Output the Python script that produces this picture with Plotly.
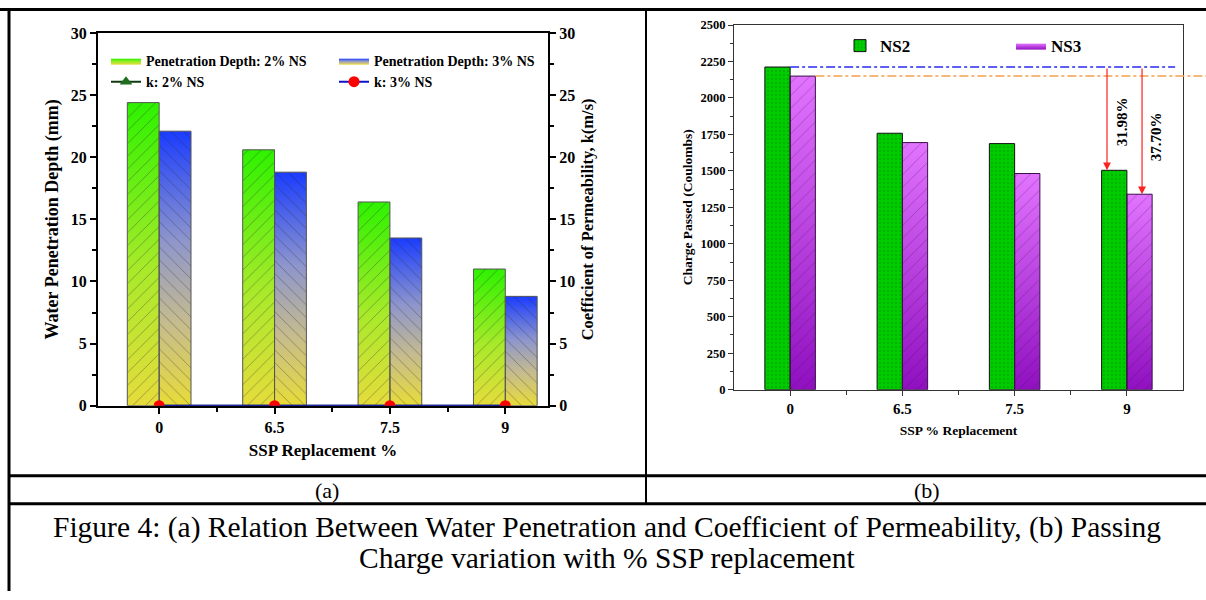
import plotly.graph_objects as go

# ---------------- data ----------------
ssp_labels = ["0", "6.5", "7.5", "9"]
depth_2ns = [24.4, 20.6, 16.4, 11.0]      # Water penetration depth (mm), 2% NS
depth_3ns = [22.1, 18.8, 13.5, 8.8]       # Water penetration depth (mm), 3% NS
k_2ns = [0, 0, 0, 0]                      # coefficient of permeability, 2% NS
k_3ns = [0, 0, 0, 0]                      # coefficient of permeability, 3% NS

charge_ns2 = [2212, 1758, 1687, 1504]     # Charge passed (Coulombs), NS2
charge_ns3 = [2150, 1694, 1482, 1340]     # Charge passed (Coulombs), NS3
reduction_labels = ["31.98%", "37.70%"]

caption_1 = "Figure 4: (a) Relation Between Water Penetration and Coefficient of Permeability, (b) Passing"
caption_2 = "Charge variation with % SSP replacement"

# ---------------- layout helpers ----------------
W, H = 1206, 600
FONT = "Liberation Serif"
Y_OFF, Y_SCALE = 8, 0.97   # vertical calibration of the photographed page


def fx(px):
    return px / W


def fy(py):
    return 1 - ((py - Y_OFF) / Y_SCALE) / H


xa_dom = [fx(98), fx(548)]
ya_dom = [fy(405), fy(33)]
xb_dom = [fx(734), fx(1183)]
yb_dom = [fy(389), fy(25)]
xa_range = [-0.53, 3.37]
xb_range = [-0.5, 3.5]

BW_A = 0.276
BW_B = 0.225

green_scale = [[0, "#e6dc3c"], [0.45, "#a8ea2a"], [1, "#2ef200"]]
blue_scale = [[0, "#e8dc38"], [0.3, "#c6bc8e"], [0.6, "#8e96cc"], [1, "#1a3cff"]]
purple_scale = [[0, "#9010c0"], [1, "#e274ff"]]

xs = list(range(len(ssp_labels)))
fig = go.Figure()


def gradient_bars(values, offset, width, scale, name, xaxis, yaxis, legend):
    for i, v in zip(xs, values):
        x0 = i + offset
        x1 = x0 + width
        fig.add_trace(go.Scatter(
            x=[x0, x0, x1, x1, x0], y=[0, v, v, 0, 0],
            fill="toself", mode="lines", line=dict(width=0),
            fillgradient=dict(type="vertical", colorscale=scale),
            name=name, legend=legend, legendgroup=name, showlegend=(i == 0),
            hoverinfo="skip", xaxis=xaxis, yaxis=yaxis))


# ---- panel (a): gradient fills on base axes ----
gradient_bars(depth_2ns, -BW_A, BW_A, green_scale, "Penetration Depth: 2% NS", "x", "y", "legend")
gradient_bars(depth_3ns, 0, BW_A, blue_scale, "Penetration Depth: 3% NS", "x", "y", "legend")

# hatched outlines (same 0-30 scale on overlaying axis so they sit above the fills)
fig.add_trace(go.Bar(
    x=xs, y=depth_2ns, width=BW_A, offset=-BW_A, showlegend=False,
    marker=dict(color="rgba(0,0,0,0)", line=dict(color="#555555", width=1),
                pattern=dict(shape="/", fgcolor="rgba(40,40,40,0.85)", bgcolor="rgba(0,0,0,0)",
                             size=9, solidity=0.09)),
    xaxis="x", yaxis="y2", hoverinfo="skip"))
fig.add_trace(go.Bar(
    x=xs, y=depth_3ns, width=BW_A, offset=0, showlegend=False,
    marker=dict(color="rgba(0,0,0,0)", line=dict(color="#555555", width=1),
                pattern=dict(shape="\\", fgcolor="rgba(40,40,40,0.85)", bgcolor="rgba(0,0,0,0)",
                             size=9, solidity=0.09)),
    xaxis="x", yaxis="y2", hoverinfo="skip"))

fig.add_trace(go.Scatter(
    x=xs, y=k_2ns, mode="lines+markers", name="k: 2% NS", legend="legend2",
    line=dict(color="#103a10", width=2),
    marker=dict(symbol="triangle-up", size=11, color="#1e6e1e"),
    xaxis="x", yaxis="y2"))
fig.add_trace(go.Scatter(
    x=xs, y=k_3ns, mode="lines+markers", name="k: 3% NS", legend="legend2",
    line=dict(color="#1010c8", width=2),
    marker=dict(symbol="circle", size=11, color="#ff0000"),
    xaxis="x", yaxis="y2"))

# ---- panel (b) ----
fig.add_trace(go.Bar(
    x=xs, y=charge_ns2, width=BW_B, offset=-BW_B, name="NS2", legend="legend3",
    marker=dict(color="#00cc00", line=dict(color="#111111", width=1),
                pattern=dict(shape=".", fgcolor="#008a00", bgcolor="#00cc00", size=4, solidity=0.2)),
    xaxis="x3", yaxis="y4", hoverinfo="skip"))
gradient_bars(charge_ns3, 0, BW_B, purple_scale, "NS3", "x3", "y3", "legend3")
fig.add_trace(go.Bar(
    x=xs, y=charge_ns3, width=BW_B, offset=0, showlegend=False,
    marker=dict(color="rgba(0,0,0,0)", line=dict(color="#3a1048", width=1),
                pattern=dict(shape="/", fgcolor="rgba(60,10,80,0.8)", bgcolor="rgba(0,0,0,0)",
                             size=9, solidity=0.08)),
    xaxis="x3", yaxis="y4", hoverinfo="skip"))

# ---------------- axes ----------------
bold = dict(family=FONT, color="black", weight="bold")

axis_a = dict(showgrid=False, zeroline=False, linecolor="black", linewidth=2,
              ticks="outside", ticklen=6, tickwidth=2, tickcolor="black",
              tickfont=dict(size=16, **bold))
axis_b = dict(showgrid=False, zeroline=False, linecolor="#333333", linewidth=1.2,
              ticks="outside", ticklen=5, tickwidth=1.2, tickcolor="#333333", mirror=True)

fig.update_layout(
    width=W, height=H, margin=dict(l=0, r=0, t=0, b=0),
    paper_bgcolor="white", plot_bgcolor="white", barmode="overlay",
    font=dict(family=FONT, color="black"),
    xaxis=dict(domain=xa_dom, range=xa_range, anchor="y", tickmode="array", tickvals=xs,
               ticktext=ssp_labels, mirror=True,
               minor=dict(tickmode="array", tickvals=[0.5, 1.5, 2.5], ticks="outside",
                          ticklen=4, tickwidth=1.5, tickcolor="black"),
               title=dict(text="SSP Replacement %", font=dict(size=17, **bold), standoff=9),
               **axis_a),
    xaxis2=dict(overlaying="x", side="top", anchor="y", range=xa_range, tickmode="array",
                tickvals=xs, showticklabels=False, showline=False, showgrid=False, zeroline=False,
                ticks="inside", ticklen=6, tickwidth=2, tickcolor="black",
                minor=dict(tickmode="array", tickvals=[0.5, 1.5, 2.5], ticks="inside",
                           ticklen=4, tickwidth=1.5, tickcolor="black")),
    yaxis=dict(domain=ya_dom, range=[0, 30], anchor="x", dtick=5,
               minor=dict(dtick=2.5, ticks="outside", ticklen=4, tickwidth=1.5, tickcolor="black"),
               title=dict(text="Water Penetration Depth (mm)", font=dict(size=18, **bold), standoff=7),
               **axis_a),
    yaxis2=dict(overlaying="y", side="right", anchor="x", range=[0, 30], dtick=5,
                minor=dict(dtick=2.5, ticks="outside", ticklen=4, tickwidth=1.5, tickcolor="black"),
                title=dict(text="Coefficient of Permeability, k(m/s)", font=dict(size=16.5, **bold), standoff=7),
                **axis_a),
    xaxis3=dict(domain=xb_dom, range=xb_range, anchor="y3", tickmode="array", tickvals=xs,
                ticktext=ssp_labels, tickfont=dict(size=15, **bold),
                minor=dict(tickmode="array", tickvals=[0.5, 1.5, 2.5], ticks="outside",
                           ticklen=4, tickwidth=1, tickcolor="#333333"),
                title=dict(text="SSP % Replacement", font=dict(size=13.5, **bold), standoff=9),
                **axis_b),
    yaxis3=dict(domain=yb_dom, range=[0, 2500], anchor="x3", dtick=250, tickfont=dict(size=12.5, **bold),
                minor=dict(dtick=125, ticks="outside", ticklen=3, tickwidth=1, tickcolor="#333333"),
                title=dict(text="Charge Passed (Coulombs)", font=dict(size=13.5, **bold), standoff=4),
                **axis_b),
    yaxis4=dict(overlaying="y3", anchor="x3", range=[0, 2500], visible=False),
    legend=dict(x=fx(106), y=fy(61), xanchor="left", yanchor="middle", orientation="h",
                entrywidth=183, font=dict(size=14, **bold), bgcolor="rgba(0,0,0,0)"),
    legend2=dict(x=fx(106), y=fy(82), xanchor="left", yanchor="middle", orientation="h",
                 entrywidth=183, font=dict(size=14, **bold), bgcolor="rgba(0,0,0,0)"),
    legend3=dict(x=fx(840), y=fy(46), xanchor="left", yanchor="middle", orientation="h",
                 entrywidth=126, font=dict(size=17, **bold), bgcolor="rgba(0,0,0,0)"),
)

# ---------------- reference lines / arrows in (b) ----------------
fig.add_shape(type="line", xref="x3", yref="y3", x0=0, x1=3.43,
              y0=charge_ns2[0], y1=charge_ns2[0],
              line=dict(color="#2a2af0", width=1.5, dash="dashdot"))
x_ns3_edge = xb_dom[0] + (BW_B - xb_range[0]) / (xb_range[1] - xb_range[0]) * (xb_dom[1] - xb_dom[0])
fig.add_shape(type="line", xref="paper", yref="y3", x0=x_ns3_edge, x1=1.0,
              y0=charge_ns3[0], y1=charge_ns3[0],
              line=dict(color="#f4a050", width=1.5, dash="dashdot"))

arrow_x = [3 - 0.177, 3 + 0.135]
arrow_end = [charge_ns2[3], charge_ns3[3]]
for ax_, yend in zip(arrow_x, arrow_end):
    fig.add_annotation(x=ax_, y=yend, xref="x3", yref="y3", ax=ax_, ay=charge_ns2[0],
                       axref="x3", ayref="y3", text="", showarrow=True, arrowhead=2,
                       arrowsize=1.3, arrowwidth=1.2, arrowcolor="#ff2020", standoff=0)

label_x = [2.957, 3.26]
label_y = [1834, 1731]
for lx, ly, txt in zip(label_x, label_y, reduction_labels):
    fig.add_annotation(x=lx, y=ly, xref="x3", yref="y3", text=txt, showarrow=False,
                       textangle=-90, font=dict(size=15, **bold))

# ---------------- table frame & captions ----------------
frame = [
    (fx(0), fx(1206), fy(9.5), fy(9.5), 3),
    (fx(9), fx(9), fy(8), 0, 3),
    (fx(646), fx(646), fy(8), fy(503), 2),
    (fx(8), fx(1206), fy(475), fy(475), 3),
    (fx(8), fx(1206), fy(503), fy(503), 3),
]
for x0, x1, y0, y1, w in frame:
    fig.add_shape(type="line", xref="paper", yref="paper", x0=x0, x1=x1, y0=y0, y1=y1,
                  line=dict(color="black", width=w))

for txt, px, py, size in [("(a)", 327, 490, 22), ("(b)", 927, 490, 22),
                          (caption_1, 607, 527, 29.5), (caption_2, 607, 557, 29.5)]:
    fig.add_annotation(x=fx(px), y=fy(py), xref="paper", yref="paper", text=txt,
                       showarrow=False, font=dict(family=FONT, size=size, color="black"),
                       xanchor="center", yanchor="middle")

fig.write_html("out.html", config={"displayModeBar": False},
               post_script="document.body.style.margin='0px';")
